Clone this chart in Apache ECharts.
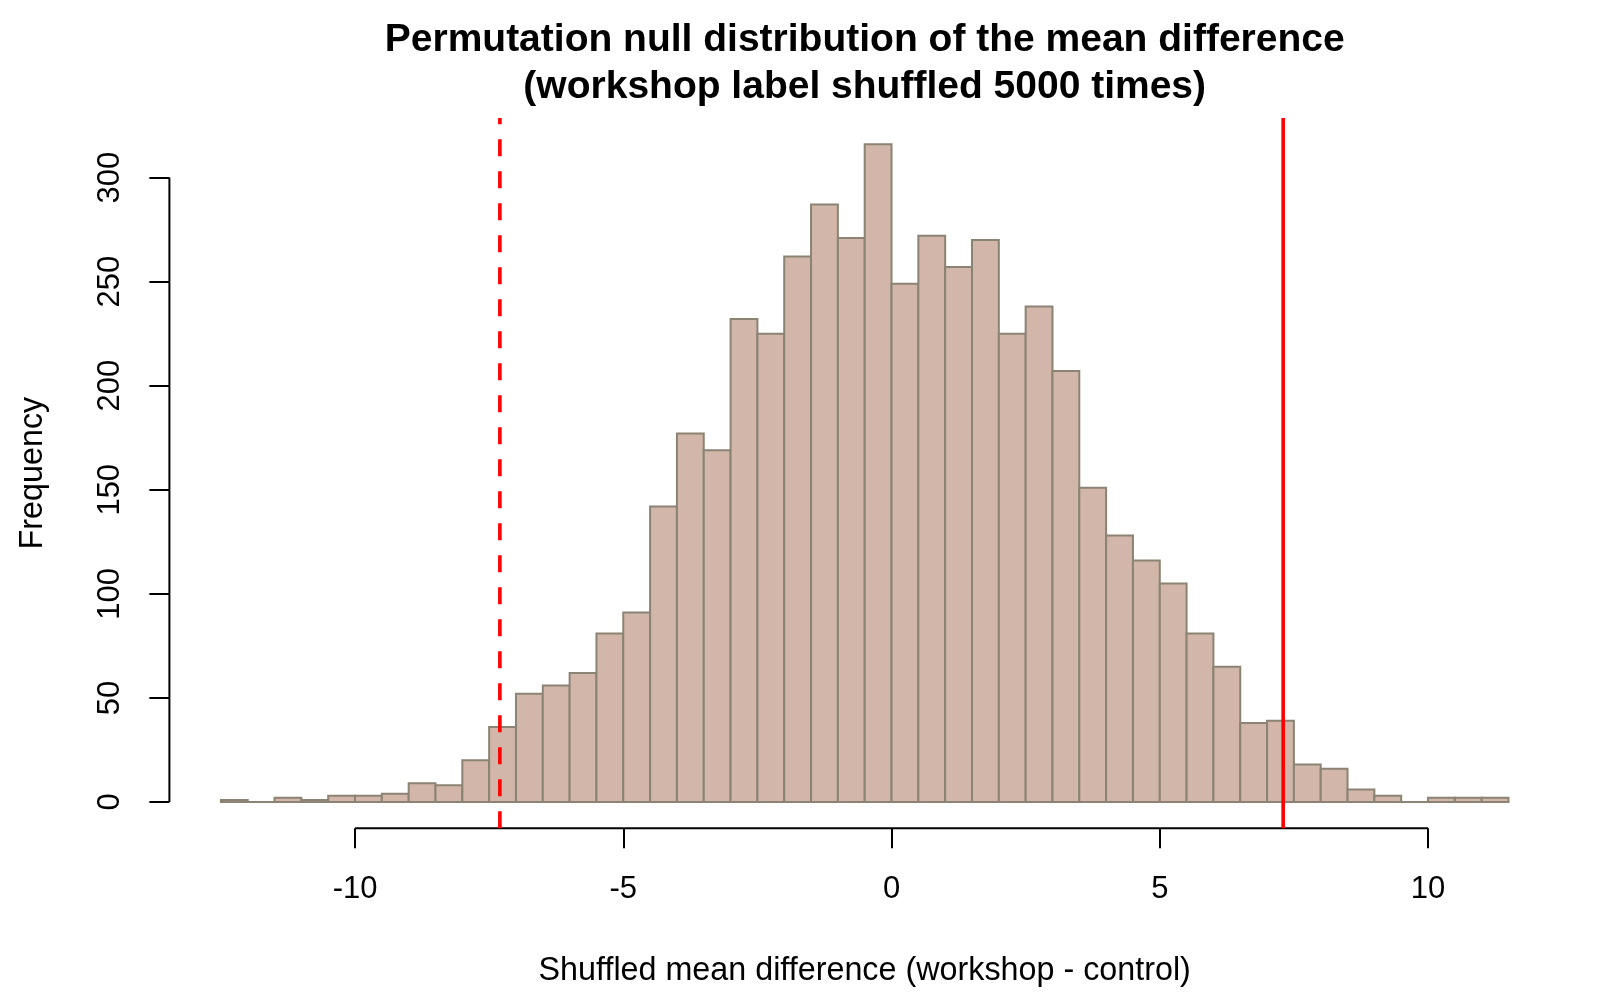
<!DOCTYPE html>
<html>
<head>
<meta charset="utf-8">
<script src="https://cdn.jsdelivr.net/npm/echarts@6/dist/echarts.min.js"></script>
<style>
  html, body { margin: 0; padding: 0; background: #fff; }
  #chart { width: 1600px; height: 1000px; }
</style>
</head>
<body>
<div id="chart"></div>
<script>
// histogram breaks (bin edges) and counts
var breaks = [-12.5, -12, -11.5, -11, -10.5, -10, -9.5, -9, -8.5, -8, -7.5, -7, -6.5, -6, -5.5, -5,
  -4.5, -4, -3.5, -3, -2.5, -2, -1.5, -1, -0.5, 0, 0.5, 1, 1.5, 2, 2.5, 3, 3.5, 4, 4.5, 5,
  5.5, 6, 6.5, 7, 7.5, 8, 8.5, 9, 9.5, 10, 10.5, 11, 11.5];
var counts = [1, 0, 2, 1, 3, 3, 4, 9, 8, 20, 36, 52, 56, 62, 81, 91, 142, 177, 169, 232,
  225, 262, 287, 271, 316, 249, 272, 257, 270, 225, 238, 207, 151, 128, 116, 105, 81, 65, 38, 39,
  18, 16, 6, 3, 0, 2, 2, 2];
var xTicks = [-10, -5, 0, 5, 10];
var yTicks = [0, 50, 100, 150, 200, 250, 300];
var observedDiff = 7.3;

// R style axis limits (range extended by 4%)
var xMin = -13.46, xMax = 12.46;
var yMin = -12.64, yMax = 328.64;

var font = 'Liberation Sans';
var bins = counts.map(function (c, i) { return [breaks[i], breaks[i + 1], c]; });

var chart = echarts.init(document.getElementById('chart'));
chart.setOption({
  animation: false,
  backgroundColor: '#fff',
  textStyle: { fontFamily: font },
  graphic: [
    { type: 'text', x: 864.7, y: 40, style: { text: 'Permutation null distribution of the mean difference',
      textAlign: 'center', textVerticalAlign: 'middle', fontSize: 39, fontWeight: 'bold', fontFamily: font, fill: '#000' } },
    { type: 'text', x: 864.7, y: 87.5, style: { text: '(workshop label shuffled 5000 times)',
      textAlign: 'center', textVerticalAlign: 'middle', fontSize: 39, fontWeight: 'bold', fontFamily: font, fill: '#000' } }
  ],
  grid: { left: 169.4, right: 40, top: 117.9, bottom: 171.7, outerBoundsMode: 'none', containLabel: false },
  xAxis: {
    type: 'value', min: xMin, max: xMax,
    name: 'Shuffled mean difference (workshop - control)',
    nameLocation: 'middle', nameGap: 127, nameMoveOverlap: false,
    nameTextStyle: { fontSize: 32.3, color: '#000', fontFamily: font },
    axisLine: { show: false, onZero: false },
    splitLine: { show: false },
    axisTick: { show: true, inside: false, length: 20, customValues: xTicks, lineStyle: { color: '#000', width: 2 } },
    axisLabel: { show: true, customValues: xTicks, margin: 46, fontSize: 31, color: '#000', fontFamily: font }
  },
  yAxis: {
    type: 'value', min: yMin, max: yMax,
    name: 'Frequency',
    nameLocation: 'middle', nameGap: 120, nameRotate: 90, nameMoveOverlap: false,
    nameTextStyle: { fontSize: 32.3, color: '#000', fontFamily: font },
    axisLine: { show: false, onZero: false },
    splitLine: { show: false },
    axisTick: { show: true, inside: false, length: 20, customValues: yTicks, lineStyle: { color: '#000', width: 2 } },
    axisLabel: { show: true, customValues: yTicks, rotate: 90, margin: 43, fontSize: 31, color: '#000', fontFamily: font }
  },
  series: [
    {
      type: 'custom',
      data: bins,
      encode: { x: [0, 1], y: 2 },
      renderItem: function (params, api) {
        var p0 = api.coord([api.value(0), api.value(2)]);
        var p1 = api.coord([api.value(1), 0]);
        return {
          type: 'rect',
          shape: { x: p0[0], y: p0[1], width: p1[0] - p0[0], height: p1[1] - p0[1] },
          style: { fill: '#D1B6A9', stroke: '#8B8374', lineWidth: 2 }
        };
      },
      z: 2
    },
    // x axis line from first to last tick
    { type: 'line', data: [[xTicks[0], yMin], [xTicks[xTicks.length - 1], yMin]], clip: false, symbol: 'none',
      lineStyle: { color: '#000', width: 2 }, z: 3 },
    // y axis line from first to last tick
    { type: 'line', data: [[xMin, yTicks[0]], [xMin, yTicks[yTicks.length - 1]]], clip: false, symbol: 'none',
      lineStyle: { color: '#000', width: 2 }, z: 3 },
    // observed difference (solid) and its mirror (dashed)
    { type: 'line', data: [[observedDiff, yMin], [observedDiff, yMax]], clip: false, symbol: 'none',
      lineStyle: { color: '#FF0000', width: 3.6 }, z: 4 },
    { type: 'line', data: [[-observedDiff, yMin], [-observedDiff, yMax]], clip: false, symbol: 'none',
      lineStyle: { color: '#FF0000', width: 3.6, type: [17, 15] }, z: 4 }
  ]
});
</script>
</body>
</html>
